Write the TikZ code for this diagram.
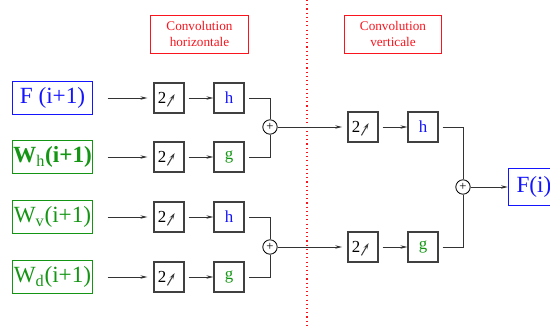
\documentclass[tikz,border=0pt]{standalone}
\usepackage{fontspec}
\setmainfont{Liberation Serif}
\usetikzlibrary{arrows.meta,calc}
\definecolor{fblue}{RGB}{20,20,255}
\definecolor{wgreen}{RGB}{20,150,20}
\definecolor{cred}{RGB}{250,20,30}

\begin{document}
\begin{tikzpicture}[x=0.025cm,y=-0.025cm,line width=0.7pt,
	>={Stealth[length=5pt,width=2.4pt]}]
	\tikzset{
	    sig/.style={draw,inner sep=0pt,minimum width=1.975cm,minimum height=0.82cm,
	        font=\fontsize{16.5}{18}\selectfont},
	    fsig/.style={sig,draw=fblue,text=fblue},
	    wsig/.style={sig,draw=wgreen,text=wgreen},
	    caption/.style={draw=cred,text=cred,align=center,inner sep=0pt,
	        minimum width=2.43cm,minimum height=0.95cm,
	        font=\fontsize{9.4}{11}\selectfont},
	    blk/.style={draw=black!75,line width=0.8pt,inner sep=0pt,minimum size=0.75cm,
	        font=\fontsize{12}{14}\selectfont},
	    upbox/.style={blk,
	        path picture={\draw[-{Stealth[length=4.5pt,width=2.8pt]},line width=0.75pt]
	            ([shift={(-0.04cm,-0.21cm)}]path picture bounding box.center) --
	            ([shift={(0.14cm,0.1cm)}]path picture bounding box.center);}},
	    hbox/.style={blk,text=fblue},
	    gbox/.style={blk,text=wgreen},
	    sum/.style={circle,draw,inner sep=0pt,minimum size=0.36cm,line width=0.6pt,
	        font=\fontsize{9}{9}\selectfont},
	    wire/.style={draw=black!80}}
	\newcommand{\upt}{\makebox[16pt][l]{2}}
	\useasboundingbox (0,0) rectangle (550,329);

	% titles
	\node[caption] (convh) at (199.5,34) {Convolution\\horizontale};
	\node[caption] (convv) at (393,34) {Convolution\\verticale};
	\coordinate (septop) at (307,0);
	\coordinate (sepbot) at (307,329);
	\draw[cred,line width=0.8pt,dash pattern=on 0.8pt off 2.2pt] (septop) -- (sepbot);

	% inputs
	\node[fsig] (in1) at (52.5,98) {F (i+1)};
	\node[wsig] (in2) at (52.5,157) {\textbf{W}\textsubscript{h}\textbf{(i+1)}};
	\node[wsig] (in3) at (52.5,217) {W\textsubscript{v}(i+1)};
	\node[wsig] (in4) at (52.5,277) {W\textsubscript{d}(i+1)};

	% horizontal stage
	\foreach \r/\y in {1/98,2/157,3/217,4/277}{
	    \node[upbox] (u\r) at (169,\y) {\upt};
	    \ifodd\r \node[hbox] (f\r) at (229,\y) {h};
	    \else \node[gbox] (f\r) at (229,\y) {g};\fi
	    \draw[wire,->,shorten <=0.375cm,shorten >=0.15cm] (in\r.east) -- (u\r.west);
	    \draw[wire,->,shorten <=0.1cm] (u\r.east) -- (f\r.west);
	}
	\node[sum] (p1) at (270,127) {+};
	\node[sum] (p2) at (270,247) {+};
	\draw[wire,shorten <=0.12cm] (f1.east) -| (p1.north);
	\draw[wire,shorten <=0.12cm] (f2.east) -| (p1.south);
	\draw[wire,shorten <=0.12cm] (f3.east) -| (p2.north);
	\draw[wire,shorten <=0.12cm] (f4.east) -| (p2.south);

	% vertical stage
	\node[upbox] (v1) at (363,127) {\upt};
	\node[upbox] (v2) at (363,247) {\upt};
	\node[hbox] (k1) at (423,127) {h};
	\node[gbox] (k2) at (423,247) {g};
	\draw[wire,->,shorten >=0.13cm] (p1.east) -- (v1.west);
	\draw[wire,->,shorten >=0.13cm] (p2.east) -- (v2.west);
	\draw[wire,->,shorten <=0.1cm] (v1.east) -- (k1.west);
	\draw[wire,->,shorten <=0.1cm] (v2.east) -- (k2.west);
	\node[sum] (p3) at (463,187) {+};
	\draw[wire,shorten <=0.1cm] (k1.east) -| (p3.north);
	\draw[wire,shorten <=0.1cm] (k2.east) -| (p3.south);

	% output
	\node[fsig,anchor=west,minimum width=0pt,inner xsep=0.2cm,minimum height=0.92cm] (out) at (508,187) {F(i)};
	\draw[wire,->] (p3.east) -- (out.west);
\end{tikzpicture}
\end{document}
